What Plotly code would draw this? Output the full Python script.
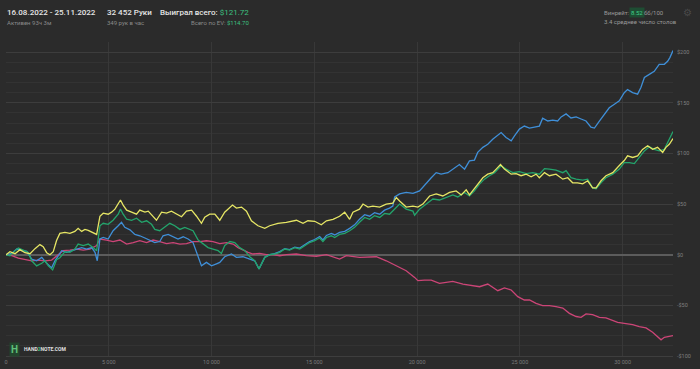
import plotly.graph_objects as go

# ---------------- data (hands played -> cumulative $) ----------------
ev_hands = [0,190,440,680,920,1170,1410,1650,1810,1980,2140,2300,2460,2620,2870,3110,3350,3510,3680,3840,4000,4240,4410,4570,4730,4970,5140,5300,5460,5570,5700,5870,6110,6350,6510,6760,6920,7160,7320,7570,7810,8050,8300,8540,8780,9030,9270,9510,9670,9910,10160,10400,10640,10850,11020,11210,11460,11700,11940,12260,12590,12830,13230,13640,14130,14450,14690,15020,15340,15590,15910,16230,16480,16720,16880,17200,17370,17610,17850,18180,18500,18820,18990,19150,19470,19800,20040,20280,20610,20930,21250,21580,21900,22150,22390,22550,22790,23040,23200,23440,23680,23850,24060,24250,24580,24820,25060,25310,25550,25790,25950,26200,26440,26760,27090,27330,27570,27810,28060,28300,28540,28710,28950,29190,29520,29840,30080,30240,30490,30730,30970,31220,31460,31700,31950,32110,32270,32452]
ev_winnings = [0,3,1,5,2,1,6,10,8,2,0,3,14,21,22,21,23,26,23,25,24,22,20,38,41,40,42,45,51,54,49,44,42,40,44,42,43,37,34,42,41,43,40,37.5,43,44,38,31,37,40,40,34,42,46,49,46,47,43,33.5,28.6,26,28.6,31,32,34,31,33.5,33,29.6,33.5,35,38,42,35,42,45,50,47,48,47,50,51,56.5,53,47,48,47,50,58,60,58,61.5,63,59,64,59,65,71,76,79.5,81,84.5,89,84.5,79.5,80,78,79.5,77,79.5,76,81,78,79.5,74.6,76,71,71,70,73,66,66,73,78,81,88,93,97.6,96,97.6,104,107.5,104,106,101,106,109,114.7]

net_hands = [0,190,440,600,840,1080,1250,1490,1740,1900,2060,2270,2460,2620,2870,3110,3350,3510,3760,4000,4240,4410,4570,4730,4970,5210,5460,5570,5700,5870,6110,6350,6600,6840,7080,7240,7480,7730,7970,8210,8460,8700,8940,9100,9350,9590,9830,10070,10320,10480,10640,10890,11130,11370,11620,11860,12100,12310,12430,12590,12830,13070,13320,13560,13800,14050,14290,14530,14770,15020,15260,15420,15590,15830,15990,16230,16480,16720,16960,17200,17450,17690,17930,18180,18420,18660,18910,19150,19470,19800,19880,20120,20450,20770,21090,21420,21740,21980,22310,22550,22790,23040,23280,23520,23770,24090,24330,24660,24980,25310,25630,25950,26200,26440,26760,27090,27250,27490,27740,28060,28300,28540,28710,28950,29190,29520,29840,30080,30330,30570,30810,31060,31300,31540,31780,32030,32190,32320,32452]
net_winnings = [0,-1,4,6.6,4.6,2.3,-6,-11,-8.5,-6,-11,-15,-5,-3,3,2.3,5.6,10.5,9,10.5,7,4,28.6,31,30,34,40,45,40,35,34,36,32,33.5,30,25,23.7,27,31,28.6,25,27,25,23.7,14.5,10.5,7,5.6,4,1.3,9,13,12,7,4,-2,-6,-14,-9,-2.6,0,0.7,2.3,5.6,4.6,7,5.6,9,12,13.8,16.5,13,17,18.7,17,20,21,23.7,27,32,36.8,35,38.5,36.8,40.7,40,45,50,45,43,39,45,50,55,54,56.5,59,57,61.5,58,63,69.7,74.6,78,81,87.8,84.5,81,82,80,81,79.5,85,84.5,83.5,81,83,76,74.6,73.6,74.6,66,65,71,76,79.5,84.5,91,91,90,96,102.5,106.5,104,102.5,104,110.7,115.7,121.72]

sd_hands = [0,280,520,760,1010,1250,1490,1740,1980,2220,2380,2540,2710,2950,3190,3440,3680,3920,4170,4330,4440,4570,4730,4970,5210,5460,5620,5780,6030,6270,6510,6760,7000,7240,7480,7640,7890,8130,8370,8620,8860,9100,9350,9510,9750,10000,10240,10400,10640,10970,11210,11530,11860,12100,12310,12590,12830,13070,13320,13560,13800,14050,14290,14530,14770,15020,15260,15420,15590,15830,15990,16230,16480,16720,16960,17200,17450,17690,17930,18180,18420,18660,18820,18910,19150,19470,19800,20120,20450,20690,20930,21170,21500,21820,22060,22310,22550,22790,22950,23200,23440,23680,23930,24090,24330,24580,24740,24980,25220,25470,25710,25950,26110,26360,26600,26840,27010,27250,27490,27740,27980,28220,28460,28630,28870,29110,29350,29600,29840,30080,30240,30490,30730,30890,31060,31300,31540,31780,32030,32190,32300,32452]
sd_winnings = [0,1.3,5.6,4,3.3,-4.3,-6,-2.6,-8.5,-13,-6,-1,4,2.3,4,5.6,7,5.6,7,2.3,-6,15.5,17,15.5,23.7,28.6,32,27,24.6,20,18.7,16.5,14.5,12,13,18.7,20,17.7,15.5,17.7,15.5,12,-1,-11,-7.6,-11,-9,-7.6,-2,0.7,-2.6,-2,-4.3,-6,-14,-2.6,0,1,3,6,5,7.5,6.5,10,13,15,18,14.5,19,21,19.5,22,23,26,29.5,35,39.5,38,41.5,40,44,46,48,57,60,61.5,60.5,63,71,76,81,79.5,81,86,89,84.5,92.7,93.4,101,106,109,114,118,120.6,115.7,112.4,117.3,124,127,125,126,127,134.7,132,132.8,132,136,139,135,136,134,132,126,125,132,138.7,145,148.6,152,160,163,160,158.5,165,175,178,181,188,188,191,194.6,201.5]

nsd_hands = [0,280,600,920,1250,1570,1900,2220,2460,2780,3110,3440,3760,4080,4410,4570,4890,5210,5540,5870,6190,6510,6840,7160,7480,7810,8130,8460,8780,9100,9430,9750,10070,10400,10730,11050,11290,11530,11780,12020,12340,12670,12990,13320,13640,14130,14610,15100,15590,16230,16560,17200,18020,18500,18990,19470,19880,20040,20360,20690,21090,21420,21740,22230,22630,23040,23440,23680,23930,24250,24580,24900,25220,25470,25790,26110,26440,26760,27090,27410,27740,27980,28220,28540,28870,29190,29430,29760,30080,30490,30810,31140,31460,31870,32030,32452]
nsd_winnings = [0,-1,-3.3,-4.3,-6,-5.3,-6,-5.3,-1,4,4.6,5.6,4.6,5.6,9,15.5,14.5,13,14.5,10.5,12,13.8,12,14.5,13,11,12,10.5,11,13,13,13.8,13,11,12,10.5,7,4.6,2.3,0.7,1.3,0,0,-1,0,0.7,-1,-1.5,0,-4.3,-1,-2.6,-2,-6,-11,-15.8,-22.4,-25.6,-25,-25,-28.3,-27.3,-26.3,-29,-30.6,-31.6,-29,-32.3,-35.5,-32.8,-34.8,-41.4,-44.7,-44.7,-48,-50.3,-50.3,-51.3,-52.6,-57.9,-61,-61.8,-58.5,-59.2,-61.8,-62.4,-64.4,-66.8,-67.7,-69,-71,-72.3,-76.6,-84,-81.5,-79.8]

x_tick_vals = [0, 5000, 10000, 15000, 20000, 25000, 30000]
x_tick_text = ["0", "5 000", "10 000", "15 000", "20 000", "25 000", "30 000"]
y_tick_vals = [-100, -50, 0, 50, 100, 150, 200]
y_tick_text = ["-$100", "-$50", "$0", "$50", "$100", "$150", "$200"]

for a, b in [(ev_hands, ev_winnings), (net_hands, net_winnings), (sd_hands, sd_winnings), (nsd_hands, nsd_winnings)]:
    assert len(a) == len(b), (len(a), len(b))

# ---------------- figure ----------------
BG = "#2b2b2b"
fig = go.Figure()
series = [
    (nsd_hands, nsd_winnings, "#cc4577"),
    (sd_hands, sd_winnings, "#3f8fd8"),
    (net_hands, net_winnings, "#23a46c"),
    (ev_hands, ev_winnings, "#e6e665"),
]
for xs, ys, col in series:
    fig.add_trace(go.Scatter(x=xs, y=ys, mode="lines", line=dict(color=col, width=1.3),
                             hoverinfo="skip"))

L, R, T, B = 6, 673, 42, 356
def px(x):
    return (x - L) / (R - L)
def py(y):
    return (B - y) / (B - T)

FONT = "Roboto"
ann = []
def text(x, y, s, size, color, weight=400, anchor="left", bg=None):
    d = dict(x=px(x), y=py(y), xref="paper", yref="paper", text=s, showarrow=False,
             xanchor=anchor, yanchor="middle",
             font=dict(family=FONT, size=size, color=color, weight=weight),
             borderpad=0)
    if bg:
        d["bgcolor"] = bg
        d["borderpad"] = 1
    ann.append(d)

text(6, 12, "16.08.2022 - 25.11.2022", 8, "#e6e6e6", 500)
text(6, 22.5, "Активен 93ч 3м", 6, "#8a8a8a")
text(106, 12, "32 452 Руки", 8, "#e6e6e6", 500)
text(106, 22.5, "349 рук в час", 6, "#8a8a8a")
text(250, 12, "Выиграл всего: <span style='color:#3cc080;font-weight:400'>$121.72</span>", 8, "#e6e6e6", 500, anchor="right")
text(250, 22.5, "Всего по EV: <span style='color:#3cc080'>$114.70</span>", 6, "#8a8a8a", anchor="right")
text(603, 12, "Винрейт:", 6, "#9a9a9a")
text(629, 12, "8.52", 6, "#3fd08a", bg="#1e4d33")
text(643, 12, "бб/100", 6, "#9a9a9a")
text(603, 21.5, "3.4 среднее число столов", 6, "#9a9a9a")
text(687, 12, "⚙", 10, "#4a4a4a", anchor="center")
# logo
text(14, 349, "H", 10, "#5fc07a", 700, anchor="center", bg="#23452d")
text(23, 349, "HAND<span style='color:#3cc080'>2</span>NOTE.COM", 5, "#e0e0e0", 700)

fig.update_layout(
    width=700, height=369,
    margin=dict(l=L, r=700 - R, t=T, b=369 - B, pad=0, autoexpand=False),
    paper_bgcolor=BG, plot_bgcolor=BG,
    showlegend=False, hovermode=False,
    annotations=ann,
    font=dict(family=FONT),
)
fig.update_xaxes(
    range=[0, 32452], tickmode="array", tickvals=x_tick_vals, ticktext=x_tick_text,
    showgrid=True, gridcolor="#383838", gridwidth=1, zeroline=False,
    showline=True, linecolor="#3e3e3e", linewidth=1, automargin=False,
    ticks="", tickfont=dict(size=5.5, color="#7a7a7a"),
)
fig.update_yaxes(
    range=[-100, 210], side="right", tickmode="array", tickvals=y_tick_vals, ticktext=y_tick_text,
    showgrid=True, gridcolor="#3d3d3d", gridwidth=1, automargin=False,
    minor=dict(tick0=0, dtick=10, showgrid=True, gridcolor="#333333", gridwidth=1),
    zeroline=True, zerolinecolor="#5c5c5c", zerolinewidth=2,
    ticks="", tickfont=dict(size=5.5, color="#7f7f7f"), ticklabelstandoff=3,
)

fig.write_html("out.html", config={"displayModeBar": False, "staticPlot": True},
               post_script="document.body.style.margin='0';document.body.style.overflow='hidden';")
